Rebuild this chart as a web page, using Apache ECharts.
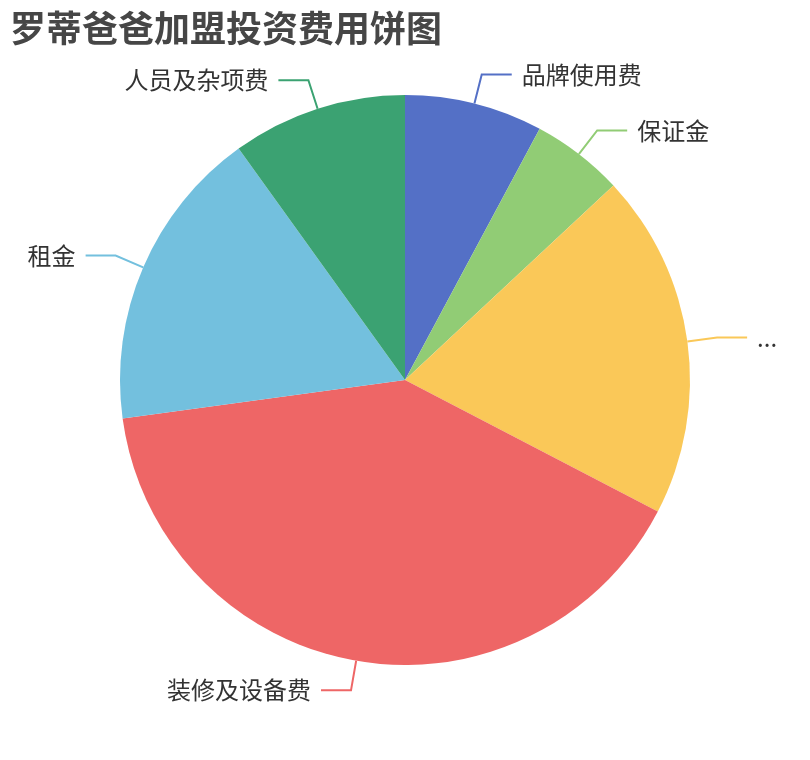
<!DOCTYPE html>
<html>
<head>
<meta charset="utf-8">
<title>罗蒂爸爸加盟投资费用饼图</title>
<script src="https://cdn.jsdelivr.net/npm/echarts@6/dist/echarts.min.js"></script>
<style>
  html, body { margin: 0; padding: 0; background: #fff; }
  #main { width: 810px; height: 760px; }
</style>
</head>
<body>
<div id="main"></div>
<script>
var titleText = '罗蒂爸爸加盟投资费用饼图';
// 费用项目（万元，按图估读）
var names = ['品牌使用费', '保证金', '首批物料费', '装修及设备费', '租金', '人员及杂项费'];
var values = [3, 2, 7.5, 15.4, 6.6, 3.8];
var colors = ['#5470c6', '#91cc75', '#fac858', '#ee6666', '#73c0de', '#3ba272'];

var chart = echarts.init(document.getElementById('main'));

var pieData = names.map(function (n, i) {
  return { name: n, value: values[i] };
});

var option = {
  color: colors,
  animation: false,
  title: {
    text: titleText,
    left: 5,
    top: 5,
    padding: 5,
    textStyle: {
      fontSize: 36,
      fontWeight: 'bold',
      color: '#464646',
      fontFamily: 'Noto Sans CJK SC'
    }
  },
  series: [
    {
      type: 'pie',
      radius: '75%',
      center: ['50%', '50%'],
      bleedMargin: 30,
      data: pieData,
      itemStyle: { borderWidth: 0 },
      label: {
        fontSize: 24,
        color: '#333',
        distanceToLabelLine: 10,
        fontFamily: 'Noto Sans CJK SC'
      },
      labelLine: {
        length: 30,
        length2: 30,
        lineStyle: { width: 2 }
      }
    }
  ]
};

chart.setOption(option);
</script>
</body>
</html>
